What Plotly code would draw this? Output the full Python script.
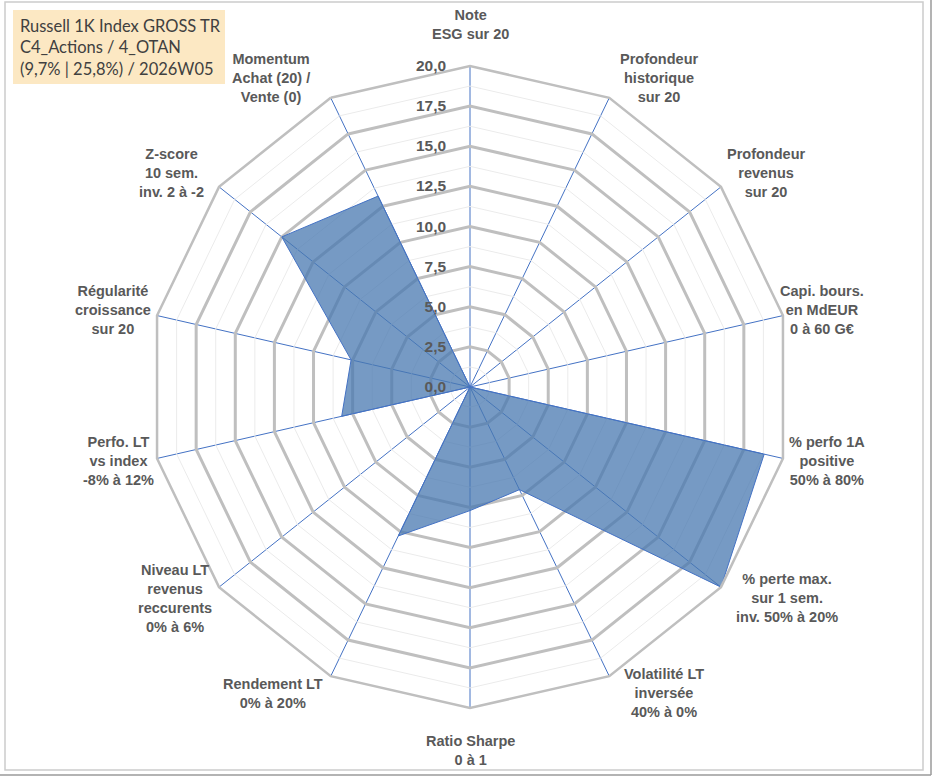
import plotly.graph_objects as go

# axes du radar (sens horaire depuis le haut)
categories = [
    "Note<br>ESG sur 20",
    "Profondeur<br>historique<br>sur 20",
    "Profondeur<br>revenus<br>sur 20",
    "Capi. bours.<br>en MdEUR<br>0 à 60 G€",
    "% perfo 1A<br>positive<br>50% à 80%",
    "% perte max.<br>sur 1 sem.<br>inv. 50% à 20%",
    "Volatilité LT<br>inversée<br>40% à 0%",
    "Ratio Sharpe<br>0 à 1",
    "Rendement LT<br>0% à 20%",
    "Niveau LT<br>revenus<br>reccurents<br>0% à 6%",
    "Perfo. LT<br>vs index<br>-8% à 12%",
    "Régularité<br>croissance<br>sur 20",
    "Z-score<br>10 sem.<br>inv. 2 à -2",
    "Momentum<br>Achat (20) /<br>Vente (0)",
]
scores = [0, 0, 0, 0, 18.8, 20.0, 7.1, 7.7, 10.3, 0, 8.2, 7.6, 15.0, 13.2]

minor_rings = [1.25, 3.75, 6.25, 8.75, 11.25, 13.75, 16.25, 18.75]

title_lines = ["Russell 1K Index GROSS TR", "C4_Actions / 4_OTAN", "(9,7% | 25,8%) / 2026W05"]

# centres des étiquettes en pixels (mise en page)
label_xy = [
    (470, 24), (659, 78), (766, 173), (822, 310), (827, 461), (787, 598),
    (664, 693), (470, 750), (273, 693), (175, 598), (118, 461), (113, 310),
    (171, 173), (271, 78),
]

W, H = 933, 776
cx, cy, R = 470, 387, 321

fig = go.Figure()

# lignes de grille secondaires
for r in minor_rings:
    fig.add_trace(go.Scatterpolar(
        r=[r] * (len(categories) + 1), theta=categories + categories[:1],
        mode="lines", line=dict(color="#EBEBEB", width=1),
        hoverinfo="skip", showlegend=False))

fig.add_trace(go.Scatterpolar(
    r=scores + scores[:1], theta=categories + categories[:1],
    mode="lines", fill="toself",
    fillcolor="rgba(72,120,176,0.75)",
    line=dict(color="#4472C4", width=1),
    showlegend=False))

fig.update_layout(
    width=W, height=H,
    margin=dict(l=0, r=0, t=0, b=0),
    paper_bgcolor="white",
    separators=", ",
    font=dict(family="Liberation Sans", color="#595959"),
    polar=dict(
        domain=dict(x=[(cx - R) / W, (cx + R) / W],
                    y=[(H - cy - R) / H, (H - cy + R) / H]),
        gridshape="linear",
        bgcolor="white",
        angularaxis=dict(
            direction="clockwise", rotation=90,
            showticklabels=False, ticks="",
            gridcolor="#4472C4", gridwidth=1.4,
            showline=True, linecolor="#BFBFBF", linewidth=2.5,
        ),
        radialaxis=dict(
            range=[0, 20], dtick=2.5, tick0=0, tickformat=".1f",
            angle=90, tickangle=90, side="counterclockwise",
            ticks="outside", ticklen=18, tickcolor="rgba(0,0,0,0)",
            tickfont=dict(size=15.5, color="#595959", family="Liberation Sans",
                          weight="bold"),
            gridcolor="#BFBFBF", gridwidth=2.5,
            showline=False,
        ),
    ),
)

for text, (x, y) in zip(categories, label_xy):
    fig.add_annotation(
        x=x / W, y=1 - y / H, xref="paper", yref="paper",
        text="<b>" + text + "</b>", showarrow=False,
        xanchor="center", yanchor="middle", align="center",
        font=dict(size=14.5, color="#595959", family="Liberation Sans"))

# cartouche titre
fig.add_shape(type="rect", xref="paper", yref="paper",
              x0=13 / W, x1=225 / W, y0=1 - 84 / H, y1=1 - 10 / H,
              fillcolor="#FCE8C3", line=dict(width=0), layer="below")
fig.add_annotation(
    x=18 / W, y=1 - 47 / H, xref="paper", yref="paper",
    text="<br>".join(title_lines), showarrow=False,
    xanchor="left", yanchor="middle", align="left",
    font=dict(size=16.5, color="#404040", family="Lato"))

# cadre
fig.add_shape(type="rect", xref="paper", yref="paper",
              x0=5 / W, x1=923 / W, y0=1 - 770 / H, y1=1 - 2 / H,
              line=dict(color="#CCCCCC", width=1.5))
fig.add_shape(type="line", xref="paper", yref="paper",
              x0=931 / W, x1=931 / W, y0=1 - 775 / H, y1=1,
              line=dict(color="#9A9A9A", width=1.5))
fig.add_shape(type="line", xref="paper", yref="paper",
              x0=0, x1=931 / W, y0=1 - 775 / H, y1=1 - 775 / H,
              line=dict(color="#9A9A9A", width=1.5))

fig.write_html("out.html", config={"displayModeBar": False},
               post_script="document.body.style.margin='0';")
